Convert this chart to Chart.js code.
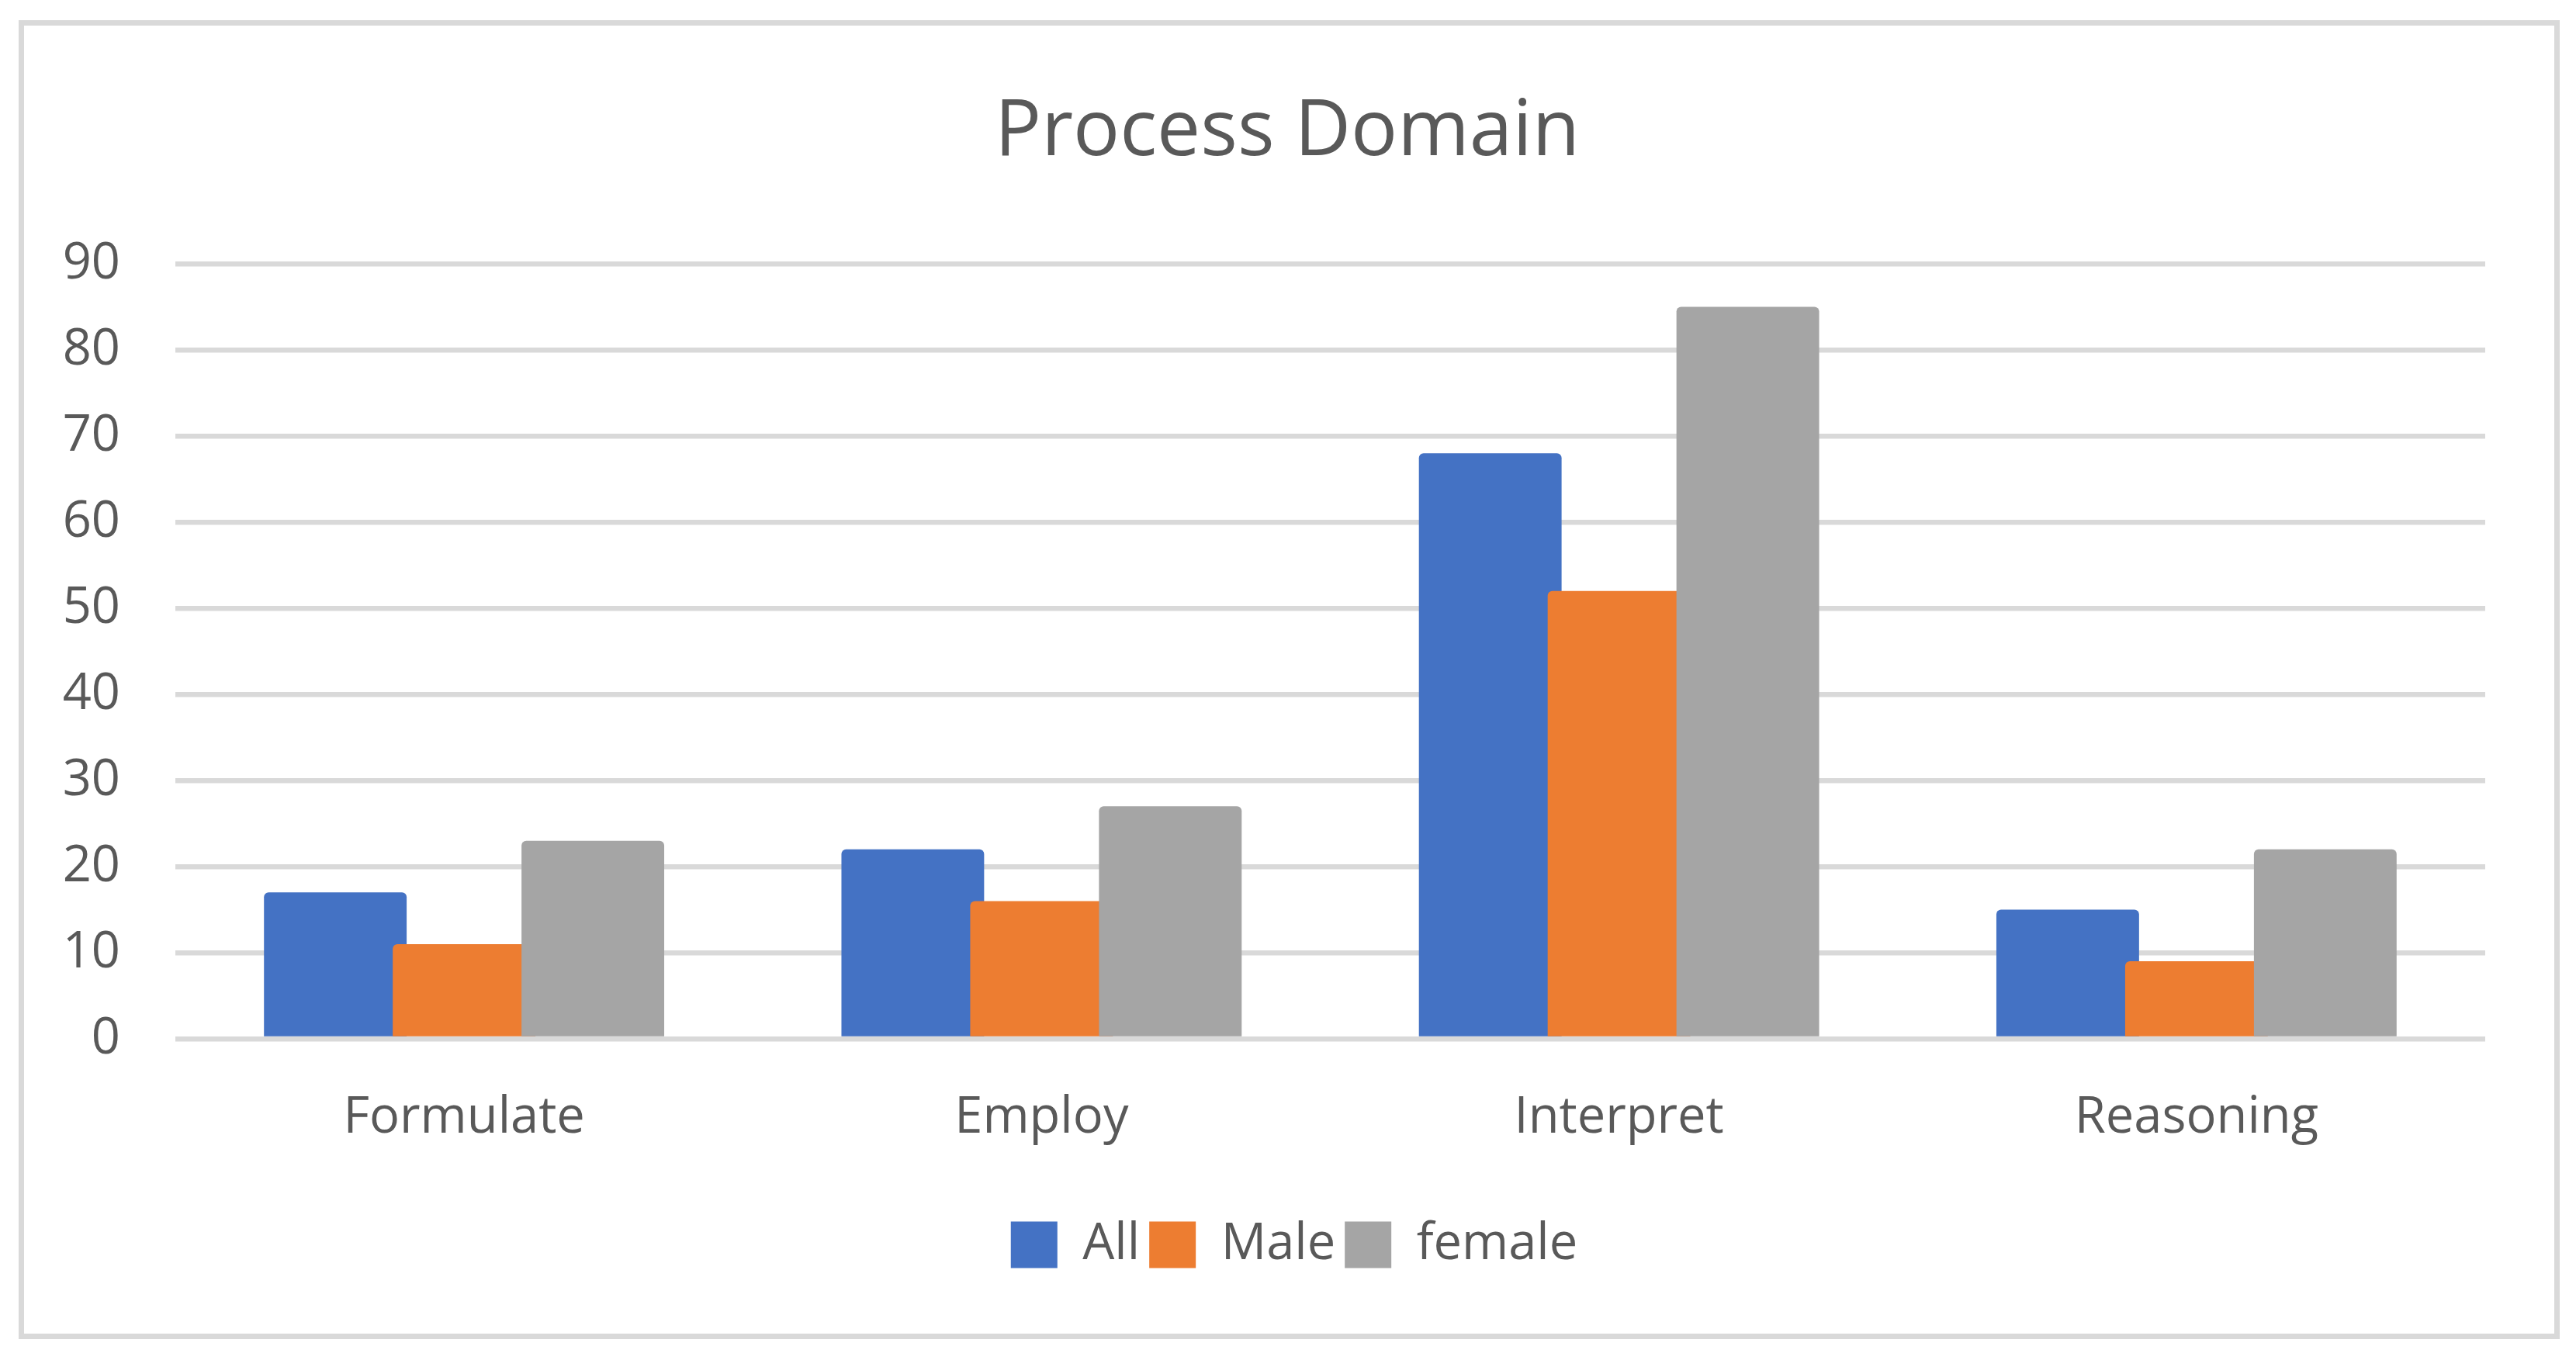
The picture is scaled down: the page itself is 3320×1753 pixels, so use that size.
<!DOCTYPE html>
<html>
<head>
<meta charset="utf-8">
<title>Process Domain</title>
<script src="https://cdn.jsdelivr.net/npm/chart.js@4.4.0/dist/chart.umd.min.js"></script>
<style>
  body { margin: 0; background: #fff; }
  #frame {
    position: absolute;
    left: 24px;
    top: 26px;
    width: 3261px;
    height: 1686px;
    border: 7px solid #d9d9d9;
    background: #fff;
  }
  canvas { display: block; }
</style>
</head>
<body>
<div id="frame">
  <canvas id="processChart" width="3261" height="1686"></canvas>
</div>
<script>
const categories = ["Formulate", "Employ", "Interpret", "Reasoning"]
const allValues = [17, 22, 68, 15]
const maleValues = [11, 16, 52, 9]
const femaleValues = [23, 27, 85, 22]
const yTicks = [0, 10, 20, 30, 40, 50, 60, 70, 80, 90]

const textColor = "#595959"
const gridColor = "#d9d9d9"
const fontFamily = "'Open Sans', 'Noto Sans', sans-serif"

// Excel draws later series on top of earlier ones, Chart.js does the opposite
const drawInOrder = {
    id: "drawInOrder",
    beforeDatasetsDraw(chart) {
        chart.data.datasets.forEach((ds, i) => {
            const meta = chart.getDatasetMeta(i)
            if (meta.visible) meta.controller.draw()
        })
        return false
    }
}

// title and legend sit a bit right of the plot centre in the original
const nudgeBlocks = {
    id: "nudgeBlocks",
    afterLayout(chart) {
        chart.titleBlock.left += 18
        chart.titleBlock.right += 18
        chart.legend.left += 27
        chart.legend.right += 27
    }
}

const barStyle = {
    categoryPercentage: 0.669,
    barPercentage: 1.108,
    borderRadius: { topLeft: 6, topRight: 6 },
    borderSkipped: "start",
}

const config = {
    type: "bar",
    data: {
        labels: categories,
        datasets: [
            { label: "All", data: allValues, backgroundColor: "#4472c4", ...barStyle },
            { label: "Male", data: maleValues, backgroundColor: "#ed7d31", ...barStyle },
            { label: "female", data: femaleValues, backgroundColor: "#a5a5a5", ...barStyle },
        ]
    },
    options: {
        responsive: false,
        animation: false,
        layout: {
            padding: { left: 48, right: 89, top: 0, bottom: 72 }
        },
        plugins: {
            title: {
                display: true,
                text: "Process Domain",
                color: textColor,
                font: { family: fontFamily, size: 100, weight: "normal" },
                padding: { top: 79, bottom: 108 },
            },
            legend: {
                position: "bottom",
                labels: {
                    color: textColor,
                    font: { family: fontFamily, size: 65 },
                    boxWidth: 60,
                    boxHeight: 60,
                    padding: 12,
                }
            },
            tooltip: { enabled: false }
        },
        scales: {
            x: {
                grid: { display: false },
                border: { display: false },
                ticks: {
                    color: textColor,
                    font: { family: fontFamily, size: 65 },
                    padding: 55,
                },
                afterFit(scale) {
                    scale.height += 25
                }
            },
            y: {
                min: 0,
                max: 90,
                afterBuildTicks(scale) {
                    scale.ticks = yTicks.map(v => ({ value: v }))
                },
                afterFit(scale) {
                    scale.width = 147
                },
                grid: {
                    color: gridColor,
                    lineWidth: 6.5,
                    drawTicks: false,
                },
                border: { display: false },
                ticks: {
                    color: textColor,
                    font: { family: fontFamily, size: 65 },
                    padding: 71,
                }
            }
        }
    },
    plugins: [drawInOrder, nudgeBlocks]
}

const canvas = document.getElementById("processChart")
const chart = new Chart(canvas, config)
</script>
</body>
</html>
